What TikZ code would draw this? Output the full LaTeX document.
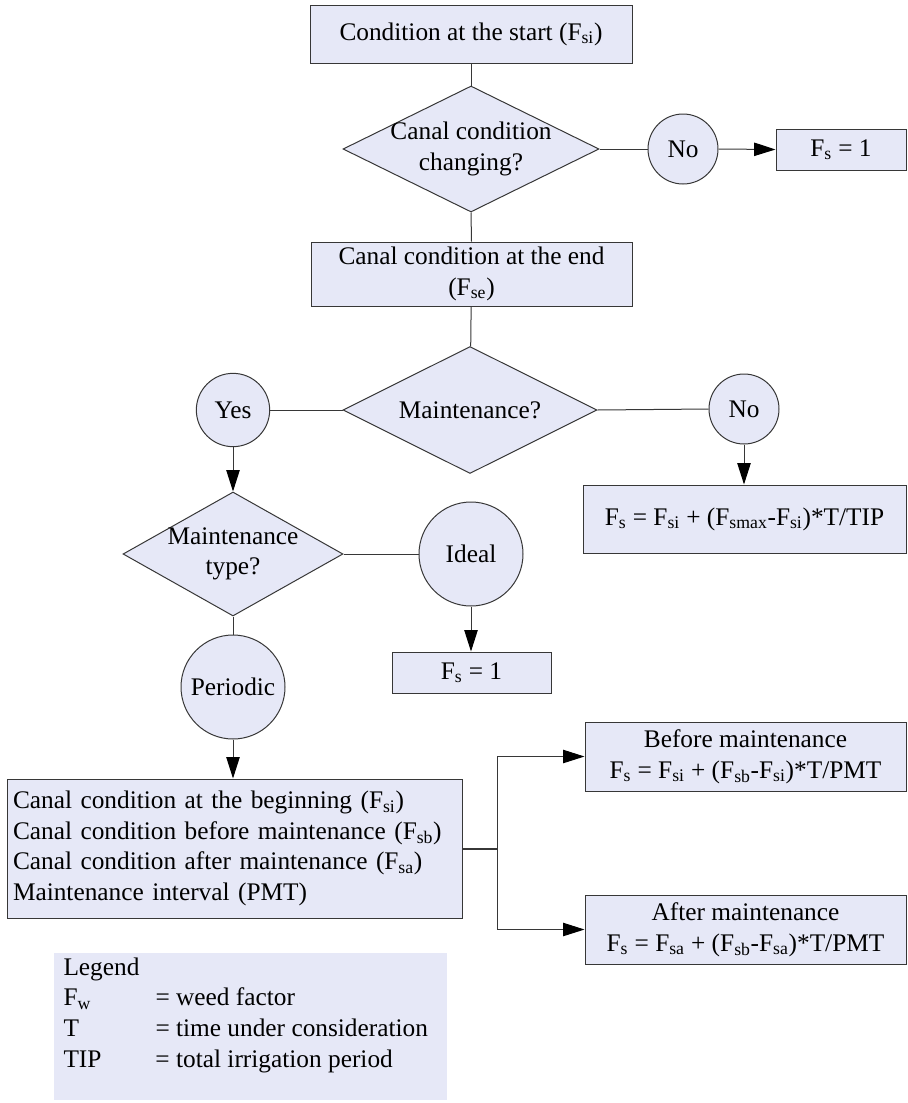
\documentclass[tikz,border=0pt]{standalone}
\usepackage{fontspec}
\setmainfont{Liberation Serif}
\usetikzlibrary{shapes.geometric,arrows.meta}

\definecolor{boxfill}{RGB}{230,232,247}
\definecolor{edge}{RGB}{55,55,55}
\newcommand{\Fsub}[1]{F\textsubscript{#1}}

\tikzset{every picture/.style={line width=0.75pt}}
\tikzset{
  box/.style={draw=edge, fill=boxfill, rectangle, inner sep=0.75pt, align=center},
  decision/.style={draw=edge, fill=boxfill, diamond, inner sep=0pt},
  answer/.style={draw=edge, fill=boxfill, circle, inner sep=0pt},
  flow/.style={draw=edge},
  flowarrow/.style={draw=edge, -{Triangle[length=16pt,width=10pt,color=black]}},
}

\begin{document}
\begin{tikzpicture}[x=0.75pt,y=0.75pt,yscale=-1,xscale=1, font=\fontsize{19}{23}\selectfont]
		\useasboundingbox (0,0) rectangle (907,1103);
		
		%Shape: Rectangle
		\node[box, minimum width=241.5pt, minimum height=43.5pt] (start) at (471,34) {Condition at the start (\Fsub{si})};
		%Shape: Diamond
		\node[decision, minimum width=192pt, minimum height=94.5pt] (chg) at (471,149) {};
		% Text Node
		\node[align=center, inner sep=0pt] at (chg) {Canal condition\\changing?};
		%Shape: Circle
		\node[answer, minimum size=52.5pt] (noa) at (683,149) {No};
		%Shape: Rectangle
		\node[box, minimum width=97.5pt, minimum height=30.75pt] (fsone) at (841,149.5) {\Fsub{s} = 1};
		%Shape: Rectangle
		\node[box, minimum width=240.75pt, minimum height=48pt] (endc) at (471.5,274) {Canal condition at the end\\(\Fsub{se})};
		
		%Shape: Diamond
		\node[decision, minimum width=190.5pt, minimum height=95.25pt] (mnt) at (470,410) {};
		% Text Node
		\node[inner sep=0pt] at (mnt) {Maintenance?};
		%Shape: Circle
		\node[answer, minimum size=55pt] (yes) at (233,410) {Yes};
		%Shape: Circle
		\node[answer, minimum size=52.5pt] (nob) at (744,409) {No};
		%Shape: Rectangle
		\node[box, minimum width=242.25pt, minimum height=51pt] (drift) at (744.5,519) {\Fsub{s} = \Fsub{si} + (\Fsub{smax}-\Fsub{si})*T/TIP};
		
		%Shape: Diamond
		\node[decision, minimum width=165pt, minimum height=93pt] (mtype) at (233,554) {};
		% Text Node
		\node[align=center, inner sep=0pt] at (mtype) {Maintenance\\type?};
		%Shape: Circle
		\node[answer, minimum size=78pt] (ideal) at (471,554) {Ideal};
		%Shape: Rectangle
		\node[box, minimum width=119.25pt, minimum height=30.75pt] (fstwo) at (471.5,672.5) {\Fsub{s} = 1};
		%Shape: Circle
		\node[answer, minimum size=78pt] (periodic) at (233,687) {Periodic};
		
		%Shape: Rectangle
		\node[box, align=left, inner sep=4.5pt, text width=332.25pt, minimum height=104.25pt] (inputs) at (234.5,848.5) {Canal condition at the beginning (\Fsub{si})\\Canal condition before maintenance (\Fsub{sb})\\Canal condition after maintenance (\Fsub{sa})\\Maintenance interval (PMT)};
		%Shape: Rectangle
		\node[box, minimum width=240.75pt, minimum height=51.75pt] (before) at (745.5,756.5) {Before maintenance\\\Fsub{s} = \Fsub{si} + (\Fsub{sb}-\Fsub{si})*T/PMT};
		%Shape: Rectangle
		\node[box, minimum width=240.75pt, minimum height=51.75pt] (after) at (745.5,929.5) {After maintenance\\\Fsub{s} = \Fsub{sa} + (\Fsub{sb}-\Fsub{sa})*T/PMT};
		\coordinate (split) at (497,848.5);
		
		%Straight Lines
		\draw[flow] (start) -- (chg);
		\draw[flow] (chg.east) -- (noa.west);
		\draw[flowarrow] (noa.east) -- (fsone.west);
		\draw[flow] (chg.south) -- (endc.north);
		\draw[flow] (endc) -- (mnt);
		\draw[flow] (mnt.west) -- (yes.east);
		\draw[flow] (mnt.east) -- (nob.west);
		\draw[flowarrow] (nob.south) -- (drift.north -| nob.south);
		\draw[flowarrow] (yes.south) -- (mtype.north);
		\draw[flow] (mtype.east) -- (ideal.west);
		\draw[flowarrow] (ideal.south) -- (fstwo.north -| ideal.south);
		\draw[flow] (mtype.south) -- (periodic.north);
		\draw[flowarrow] (periodic.south) -- (inputs.north -| periodic.south);
		\draw[flow, line width=1.5pt] (inputs.east) -- (split);
		\draw[flowarrow] (split) |- (before.west);
		\draw[flowarrow] (split) |- (after.west);
		
		%Shape: Rectangle
		\fill[boxfill] (54,953) rectangle (447,1100);
		% Text Node
		\node[anchor=north west, inner sep=0pt, align=left] (legend) at (63,957) {Legend\\\makebox[69pt][l]{\Fsub{w}}= weed factor\\\makebox[69pt][l]{T}= time under consideration\\\makebox[69pt][l]{TIP}= total irrigation period};
	\end{tikzpicture}
\end{document}
